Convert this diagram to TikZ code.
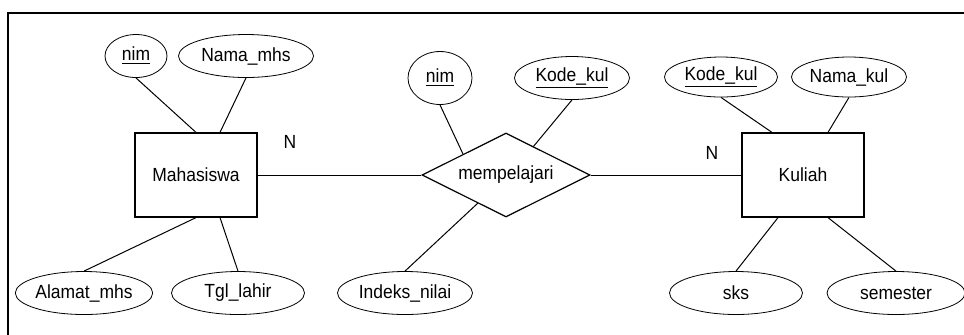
\documentclass[tikz,border=0pt]{standalone}
\usepackage{fontspec}
\setmainfont{Liberation Sans}[FakeStretch=0.92]
\usetikzlibrary{shapes,positioning,calc}

\begin{document}
\begin{tikzpicture}[
    x=0.5pt, y=-0.5pt,
    font=\fontsize{9.5}{11}\selectfont,
    entity/.style={rectangle, draw, line width=0.6pt, minimum width=61pt, minimum height=42pt, inner sep=0pt},
    relation/.style={diamond, aspect=2, draw, line width=0.6pt, minimum width=84pt, minimum height=42pt, inner sep=0pt},
    attr/.style={ellipse, draw, line width=0.4pt, minimum height=21.5pt, inner sep=0pt},
    line/.style={draw, line width=0.5pt}
]
\useasboundingbox (0,0) rectangle (964,334);

% Frame
\draw [line width=1.2pt] (8,340) -- (8,13) -- (970,13);

% Entities and relationship
\node [entity] (mhs) at (196,175) {Mahasiswa};
\node [entity] (kul) at (803,175) {Kuliah};
\node [relation] (ajar) at (506,175) {mempelajari};

% Attributes - Mahasiswa
\node [attr, minimum width=31pt] (nim_mhs) at (136,56) {\underline{nim}};
\node [attr, minimum width=67.5pt] (nama_mhs) at (246,56) {Nama\_mhs};
\node [attr, minimum width=64pt] (alamat) at (84,293) {Alamat\_mhs};
\node [attr, minimum width=66.5pt] (tgl) at (238,293) {Tgl\_lahir};

% Attributes - mempelajari
\node [attr, minimum width=32pt, minimum height=26.5pt] (nim_rel) at (440,78) {\underline{nim}};
\node [attr, minimum width=57.5pt] (kode_rel) at (572,78) {\underline{Kode\_kul}};
\node [attr, minimum width=67.5pt] (indeks) at (405,293) {Indeks\_nilai};

% Attributes - Kuliah
\node [attr, minimum width=56.5pt, minimum height=20pt] (kode_kul) at (721,77) {\underline{Kode\_kul}};
\node [attr, minimum width=57.5pt, minimum height=20pt] (nama_kul) at (849,77) {Nama\_kul};
\node [attr, minimum width=66.5pt] (sks) at (736,293) {sks};
\node [attr, minimum width=69pt] (smt) at (896,293) {semester};

% Cardinality
\node (n_mhs) at (290,142) {N};
\node (n_kul) at (712,153) {N};

% Connections - relationship
\path [line] (mhs) -- (ajar);
\path [line] (ajar) -- (kul);

% Connections - attributes
\path [line] (nim_mhs.south) -- (mhs.north);
\path [line] (nama_mhs.south) -- ($(mhs.north)+(24,0)$);
\path [line] (alamat.north) -- (mhs.south);
\path [line] (tgl.north) -- ($(mhs.south)+(24,0)$);
\path [line] (nim_rel.south) -- ($(ajar.center)+(-43,-21)$);
\path [line] (kode_rel.south) -- ($(ajar.center)+(27,-28)$);
\path [line] (indeks.north) -- ($(ajar.center)+(-28,28)$);
\path [line] (kode_kul.south) -- ($(kul.north)+(-31,0)$);
\path [line] (nama_kul.south) -- ($(kul.north)+(25,0)$);
\path [line] (sks.north) -- ($(kul.south)+(-25,0)$);
\path [line] (smt.north) -- ($(kul.south)+(25,0)$);

\end{tikzpicture}
\end{document}
